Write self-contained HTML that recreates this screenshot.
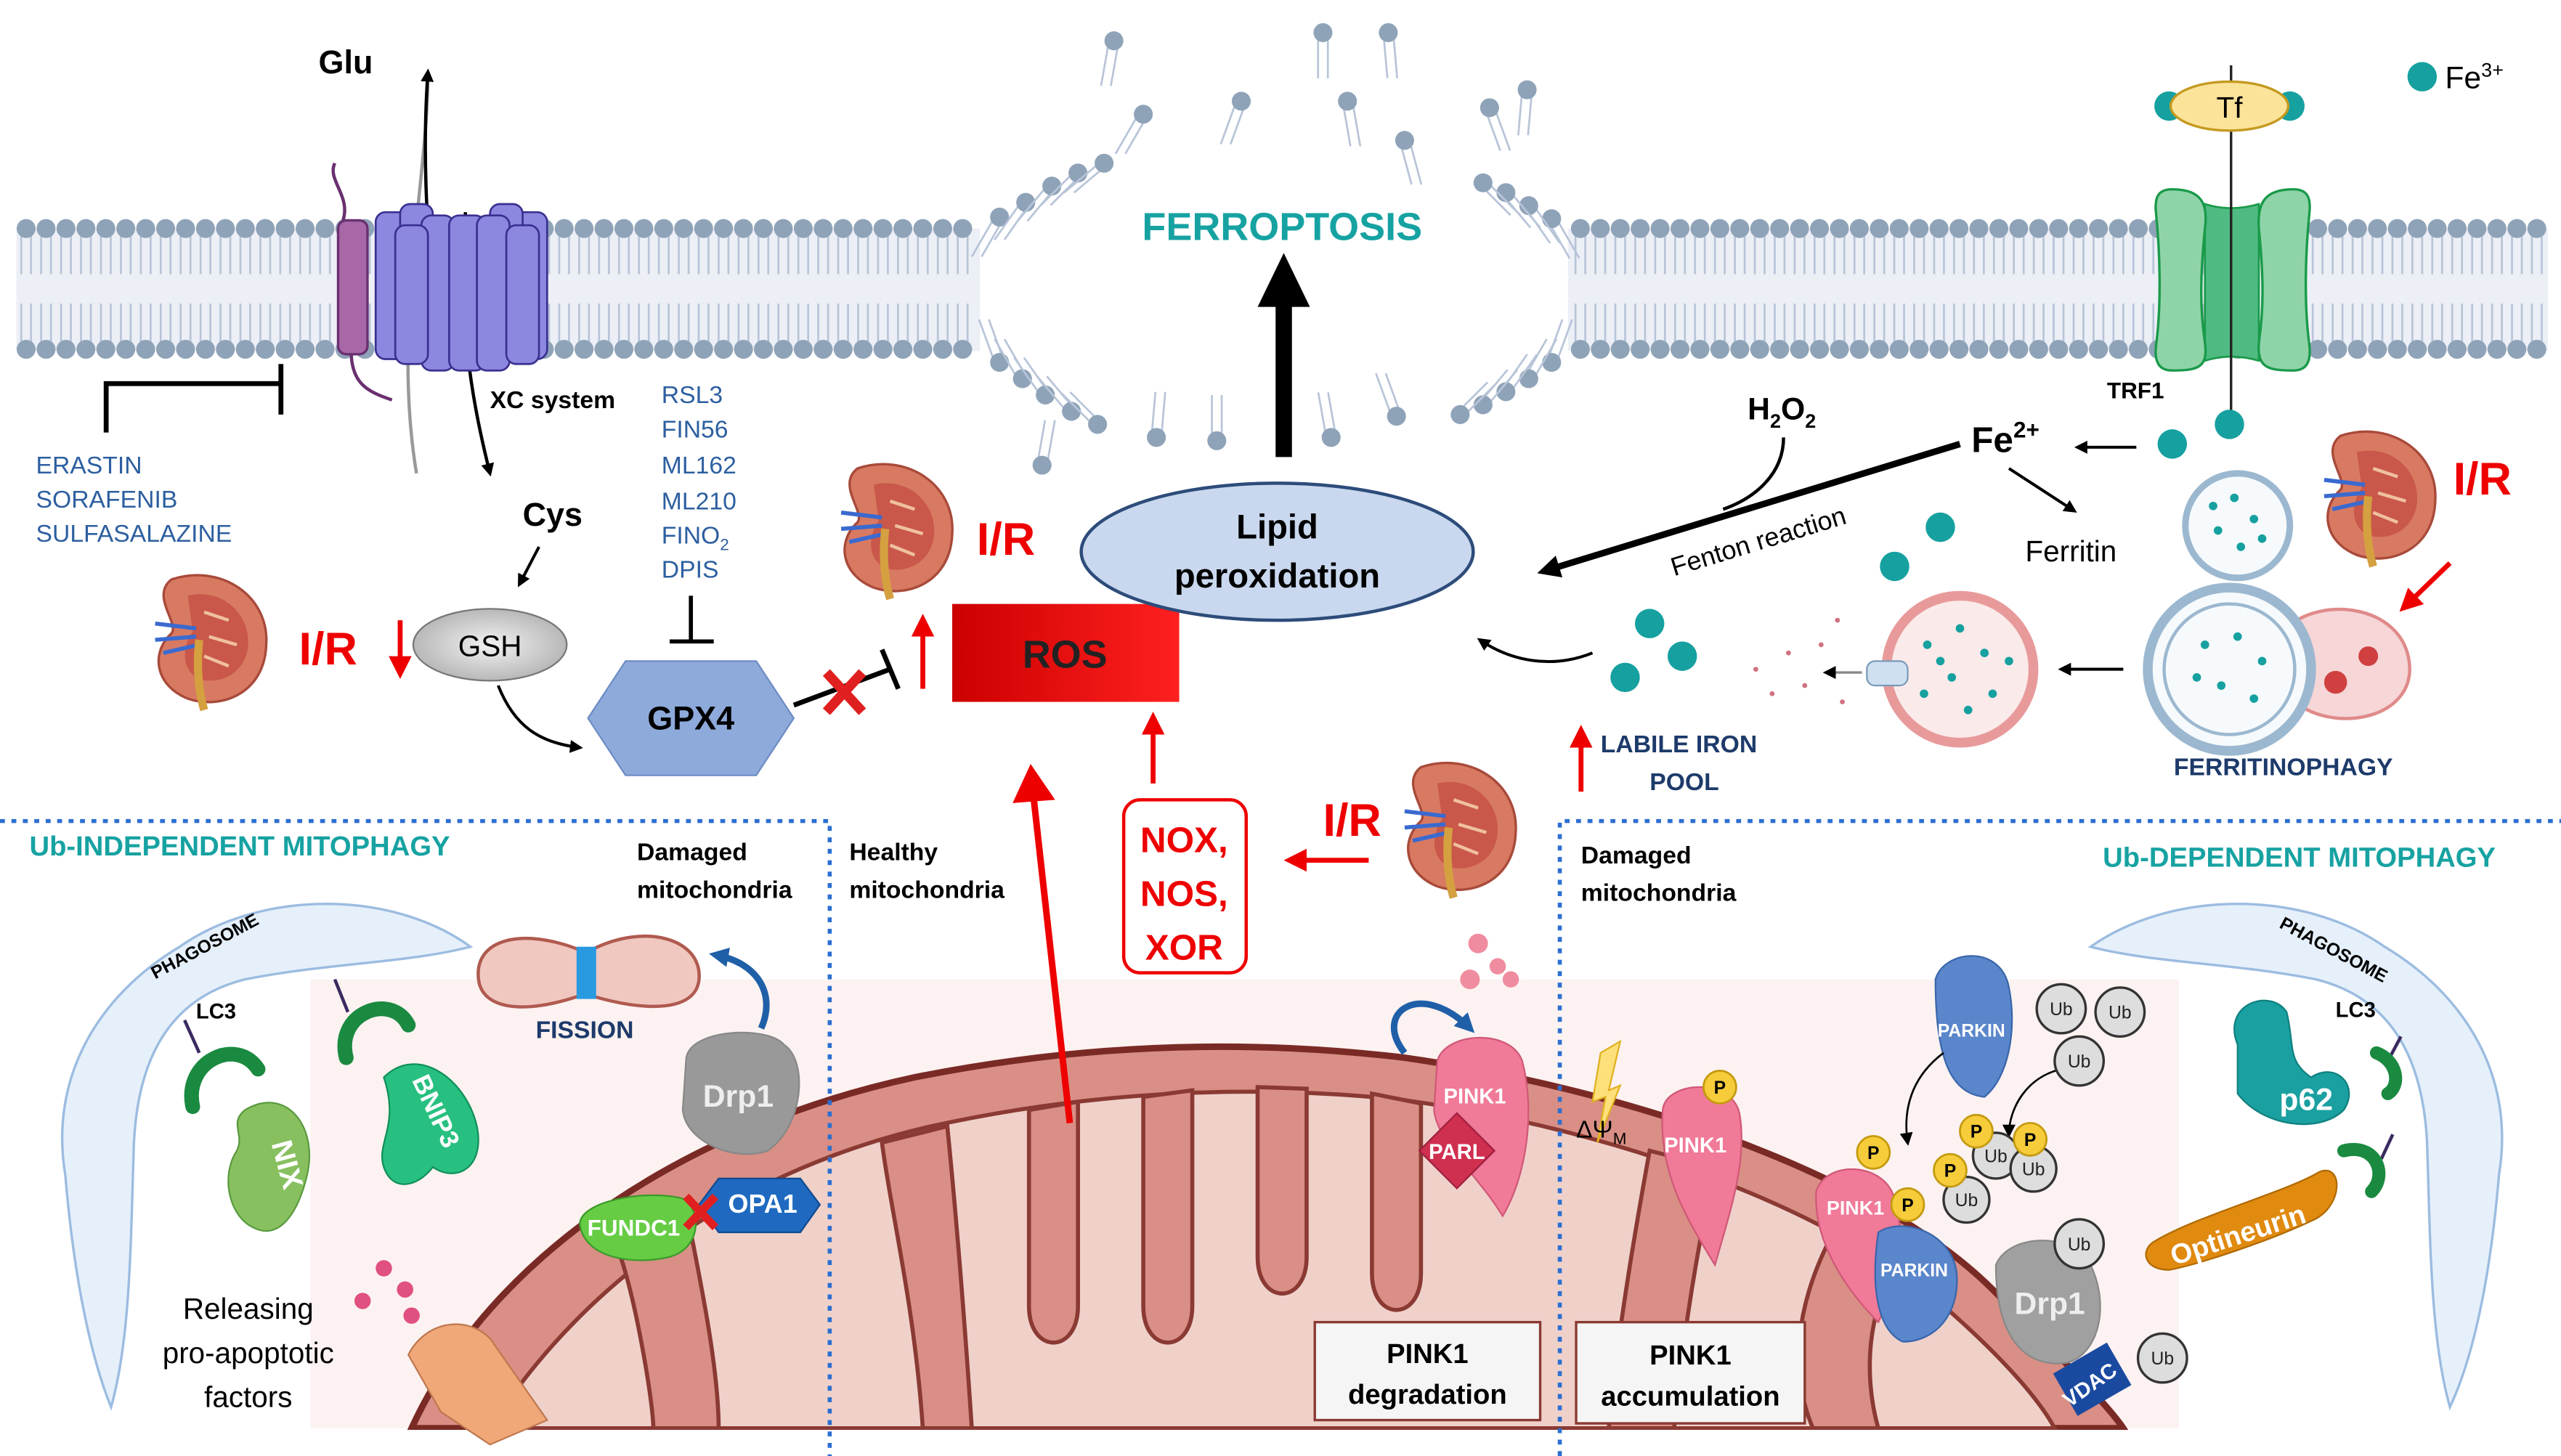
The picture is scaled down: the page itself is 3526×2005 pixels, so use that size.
<!DOCTYPE html>
<html><head><meta charset="utf-8">
<style>
html,body{margin:0;padding:0;background:#fff;}
svg{display:block;}
text{font-family:"Liberation Sans",sans-serif;}
</style></head>
<body>
<svg id="s" xmlns="http://www.w3.org/2000/svg" width="3526" height="2005" viewBox="0 0 1568 892" preserveAspectRatio="none">
<defs>
<marker id="ab" markerWidth="8" markerHeight="8" refX="6" refY="4" orient="auto" markerUnits="userSpaceOnUse"><path d="M0,0 L8,4 L0,8 z" fill="#000"/></marker>
<marker id="abk" markerWidth="14" markerHeight="14" refX="10" refY="7" orient="auto" markerUnits="userSpaceOnUse"><path d="M0,0 L14,7 L0,14 z" fill="#000"/></marker>
<marker id="ar" markerWidth="14" markerHeight="14" refX="10" refY="7" orient="auto" markerUnits="userSpaceOnUse"><path d="M0,0 L14,7 L0,14 z" fill="#e00"/></marker>
<marker id="abl" markerWidth="12" markerHeight="12" refX="8" refY="6" orient="auto" markerUnits="userSpaceOnUse"><path d="M0,0 L12,6 L0,12 z" fill="#1f5fa8"/></marker>
<linearGradient id="ros" x1="0" y1="0" x2="1" y2="0"><stop offset="0" stop-color="#c00"/><stop offset="1" stop-color="#ff2020"/></linearGradient>
<radialGradient id="gsh"><stop offset="0" stop-color="#f2f2f2"/><stop offset="1" stop-color="#b8b8b8"/></radialGradient>
<g id="kid">
<path d="M-25,-35 C5,-45 35,-25 33,5 C32,35 5,45 -15,38 C-35,30 -38,10 -25,-2 C-20,-8 -38,-25 -25,-35z" fill="#d87a62" stroke="#a84a3a" stroke-width="1.5"/>
<path d="M-15,-25 C5,-30 22,-15 22,3 C22,22 5,30 -8,26 C-20,20 -18,5 -12,-3z" fill="#c9584a"/>
<path d="M-10,-5 L-35,-8 M-10,0 L-35,2 M-8,5 L-30,10" stroke="#3a6ad0" stroke-width="2.5"/>
<path d="M-8,2 C-10,20 -8,35 -5,45" stroke="#d4a040" stroke-width="5" fill="none"/>
<path d="M-5,-15 L10,-10 M-2,0 L15,5 M-5,12 L10,18" stroke="#f0c0a0" stroke-width="2"/>
</g>
</defs>

<rect x="190" y="600" width="1144" height="275" fill="#fcf2f1"/>

<g id="mem"></g>

<path d="M252,875 C300,770 420,690 560,660 C660,640 760,636 860,648 C1000,668 1150,720 1220,790 C1260,830 1290,860 1300,875 Z" fill="#d98f85" stroke="#7a2a25" stroke-width="4"/>
<path d="M300,875 C360,780 460,715 570,690 C670,668 770,664 860,674 C990,692 1120,740 1190,800 C1230,835 1250,860 1258,875 Z" fill="#efd1ca" stroke="#8a3a33" stroke-width="2.5"/>
<g fill="#d98f85" stroke="#8a3a33" stroke-width="2.5">
<path d="M380,770 C390,800 400,860 400,875 L440,875 C440,840 430,790 420,740 Z"/>
<path d="M540,700 C545,740 560,800 565,875 L595,875 C590,800 585,740 580,690 Z"/>
<path d="M630,680 L630,800 C630,830 660,830 660,800 L660,675 Z"/>
<path d="M700,672 L700,800 C700,830 730,830 730,800 L730,668 Z"/>
<path d="M770,666 L770,770 C770,800 800,800 800,770 L800,667 Z"/>
<path d="M840,670 L840,780 C840,810 870,810 870,780 L870,676 Z"/>
<path d="M1010,705 C1000,760 990,820 985,875 L1025,875 C1030,820 1040,760 1050,715 Z"/>
<path d="M1120,760 C1100,800 1095,840 1110,875 L1150,875 C1140,840 1145,800 1160,780 Z"/>
</g>
<rect x="0" y="876" width="1568" height="20" fill="#fff"/>

<g stroke="#2c6fd0" stroke-width="2.5" stroke-dasharray="3,4" fill="none">
<path d="M0,503 H508 V892"/>
<path d="M955,892 V503 H1568"/>
</g>

<path d="M255,290 C240,200 262,110 262,45" stroke="#999" stroke-width="2" fill="none"/>
<path d="M270,215 C262,160 258,100 262,44" stroke="#000" stroke-width="2" fill="none" marker-end="url(#ab)"/>
<path d="M285,130 C280,200 290,250 300,290" stroke="#000" stroke-width="2" fill="none" marker-end="url(#ab)"/>
<path d="M205,100 C200,110 215,120 210,135" stroke="#6a3070" stroke-width="2" fill="none"/>
<path d="M215,215 C215,235 225,240 240,245" stroke="#6a3070" stroke-width="2" fill="none"/>
<rect x="207" y="135" width="18" height="82" rx="5" fill="#a868a8" stroke="#6a3070" stroke-width="1.5"/>
<g fill="#8c88e0" stroke="#3a3090" stroke-width="1.2">
<rect x="230" y="130" width="20" height="90" rx="6"/><rect x="315" y="130" width="20" height="90" rx="6"/>
<rect x="245" y="125" width="20" height="95" rx="6"/><rect x="300" y="125" width="20" height="95" rx="6"/>
<rect x="258" y="132" width="20" height="95" rx="6"/><rect x="275" y="132" width="22" height="95" rx="6"/><rect x="292" y="132" width="20" height="95" rx="6"/>
<rect x="242" y="138" width="20" height="85" rx="6"/><rect x="310" y="138" width="20" height="85" rx="6"/>
</g>
<text x="195" y="45" font-size="20" font-weight="bold">Glu</text>
<text x="300" y="250" font-size="15" font-weight="bold">XC system</text>
<path d="M65,265 V235 H172 M172,223 V254" stroke="#000" stroke-width="3" fill="none"/>
<g fill="#2d5fa0" font-size="15"><text x="22" y="290">ERASTIN</text><text x="22" y="311">SORAFENIB</text><text x="22" y="332">SULFASALAZINE</text></g>
<text x="320" y="322" font-size="20" font-weight="bold">Cys</text>
<path d="M330,335 L318,358" stroke="#000" stroke-width="1.8" marker-end="url(#ab)"/>
<ellipse cx="300" cy="395" rx="47" ry="22" fill="url(#gsh)" stroke="#777" stroke-width="1"/>
<text x="300" y="402" font-size="18" text-anchor="middle">GSH</text>
<path d="M305,420 C315,445 330,455 355,458" stroke="#000" stroke-width="1.8" fill="none" marker-end="url(#ab)"/>
<use href="#kid" x="130" y="390"/>
<text x="183" y="407" font-size="28" font-weight="bold" fill="#e00">I/R</text>
<path d="M245,380 V412" stroke="#e00" stroke-width="3" marker-end="url(#ar)"/>
<g fill="#2d5fa0" font-size="15"><text x="405" y="247">RSL3</text><text x="405" y="268">FIN56</text><text x="405" y="290">ML162</text><text x="405" y="312">ML210</text><text x="405" y="333">FINO<tspan font-size="10" dy="4">2</tspan></text><text x="405" y="354">DPIS</text></g>
<path d="M423,365 V392 M410,393 H437" stroke="#000" stroke-width="2.5"/>
<polygon points="360,440 383,405 463,405 486,440 463,475 383,475" fill="#8eaadb" stroke="#6d8cc4"/>
<text x="423" y="447" font-size="20" font-weight="bold" text-anchor="middle">GPX4</text>
<path d="M486,432 L545,410 M540,398 L550,422" stroke="#000" stroke-width="3"/>
<path d="M506,412 L528,436 M528,412 L506,436" stroke="#e02020" stroke-width="6"/>
<path d="M565,422 V380" stroke="#e00" stroke-width="3" marker-end="url(#ar)"/>
<rect x="583" y="370" width="139" height="60" fill="url(#ros)"/>
<text x="652" y="409" font-size="24" font-weight="bold" text-anchor="middle" fill="#222">ROS</text>
<use href="#kid" x="550" y="322"/>
<text x="598" y="340" font-size="28" font-weight="bold" fill="#e00">I/R</text>

<ellipse cx="782" cy="338" rx="120" ry="42" fill="#c9d8ee" stroke="#2d4c7a" stroke-width="2"/>
<text x="782" y="330" font-size="21" font-weight="bold" text-anchor="middle">Lipid</text>
<text x="782" y="360" font-size="21" font-weight="bold" text-anchor="middle">peroxidation</text>
<path d="M786,280 V185" stroke="#000" stroke-width="10"/>
<polygon points="770,188 802,188 786,155" fill="#000"/>
<text x="785" y="147" font-size="24" font-weight="bold" text-anchor="middle" fill="#17a2a2">FERROPTOSIS</text>

<path d="M655,688 L633,490" stroke="#e00" stroke-width="4"/>
<polygon points="620,492 646,490 631,468" fill="#e00"/>
<path d="M706,480 V440" stroke="#e00" stroke-width="3" marker-end="url(#ar)"/>
<rect x="688" y="490" width="75" height="106" rx="10" fill="#fff" stroke="#e00" stroke-width="2"/>
<g font-size="22" font-weight="bold" fill="#e00" text-anchor="middle"><text x="725" y="522">NOX,</text><text x="725" y="555">NOS,</text><text x="725" y="588">XOR</text></g>
<path d="M838,527 H790" stroke="#e00" stroke-width="3" marker-end="url(#ar)"/>
<text x="810" y="512" font-size="28" font-weight="bold" fill="#e00">I/R</text>
<use href="#kid" x="895" y="505"/>

<!-- TRF1 -->
<path d="M1350,125 Q1366,130 1383,125 L1383,221 Q1366,216 1350,221 Z" fill="#4fbb82" stroke="#1a9a4a" stroke-width="1.2"/>
<path d="M1330,116 C1348,116 1352,125 1350,140 C1347,170 1347,190 1350,210 C1352,225 1346,227 1330,227 C1322,227 1319,222 1320,212 C1323,190 1323,160 1320,130 C1319,120 1322,116 1330,116Z" fill="#8fd4a8" stroke="#1a9a4a" stroke-width="1.5"/>
<path d="M1404,116 C1386,116 1382,125 1383,140 C1386,170 1386,190 1383,210 C1382,225 1388,227 1404,227 C1412,227 1415,222 1414,212 C1411,190 1411,160 1414,130 C1415,120 1412,116 1404,116Z" fill="#8fd4a8" stroke="#1a9a4a" stroke-width="1.5"/>
<line x1="1366" y1="40" x2="1366" y2="268" stroke="#222" stroke-width="1.5"/>
<circle cx="1328" cy="65" r="9" fill="#16a0a0"/><circle cx="1402" cy="65" r="9" fill="#16a0a0"/>
<ellipse cx="1365" cy="65" rx="36" ry="15" fill="#fbe39a" stroke="#c49a20" stroke-width="1.5"/>
<text x="1365" y="72" font-size="18" text-anchor="middle">Tf</text>
<circle cx="1483" cy="47" r="9" fill="#16a0a0"/>
<text x="1497" y="54" font-size="19">Fe<tspan font-size="12" dy="-7">3+</tspan></text>
<text x="1290" y="244" font-size="14" font-weight="bold">TRF1</text>
<circle cx="1330" cy="272" r="9" fill="#16a0a0"/><circle cx="1365" cy="260" r="9" fill="#16a0a0"/>
<path d="M1308,274 H1272" stroke="#000" stroke-width="1.8" marker-end="url(#ab)"/>
<text x="1207" y="277" font-size="22" font-weight="bold">Fe<tspan font-size="14" dy="-9">2+</tspan></text>
<path d="M1230,287 L1270,313" stroke="#000" stroke-width="1.8" marker-end="url(#ab)"/>
<text x="1240" y="344" font-size="18">Ferritin</text>
<circle cx="1370" cy="322" r="32" fill="#f6fafc" stroke="#9cb8d0" stroke-width="4"/>
<text x="1070" y="257" font-size="19" font-weight="bold">H<tspan font-size="12" dy="5">2</tspan><tspan dy="-5">O</tspan><tspan font-size="12" dy="5">2</tspan></text>
<path d="M1200,272 L945,350" stroke="#000" stroke-width="4" marker-end="url(#abk)"/>
<path d="M1092,268 C1092,290 1075,305 1055,312" stroke="#000" stroke-width="2" fill="none"/>
<text x="1025" y="353" font-size="16" transform="rotate(-17 1025 353)">Fenton reaction</text>
<circle cx="1188" cy="323" r="9" fill="#16a0a0"/><circle cx="1160" cy="347" r="9" fill="#16a0a0"/>
<use href="#kid" x="1458" y="302"/>
<text x="1502" y="303" font-size="28" font-weight="bold" fill="#e00">I/R</text>
<path d="M1500,345 L1472,372" stroke="#e00" stroke-width="3" marker-end="url(#ar)"/>
<path d="M1400,385 C1420,365 1470,370 1475,405 C1480,440 1430,450 1405,430 Z" fill="#f6d6d6" stroke="#e08a8a" stroke-width="2"/>
<circle cx="1365" cy="410" r="50" fill="#f6fafc" stroke="#9cb8d0" stroke-width="6"/>
<circle cx="1365" cy="410" r="40" fill="none" stroke="#9cb8d0" stroke-width="2"/>
<circle cx="1430" cy="418" r="7" fill="#d04040"/><circle cx="1450" cy="402" r="6" fill="#d04040"/>
<text x="1398" y="475" font-size="15" font-weight="bold" text-anchor="middle" fill="#1d3a6a">FERRITINOPHAGY</text>
<path d="M1300,410 H1262" stroke="#000" stroke-width="1.8" marker-end="url(#ab)"/>
<circle cx="1200" cy="410" r="45" fill="#fbeaea" stroke="#e89a9a" stroke-width="6"/>
<rect x="1143" y="405" width="25" height="15" rx="5" fill="#cfe0f0" stroke="#7a9ab8"/>
<path d="M1140,412 H1118" stroke="#888" stroke-width="1.5" marker-end="url(#ab)"/>
<g id="fdots"></g>
<circle cx="1010" cy="382" r="9" fill="#16a0a0"/><circle cx="995" cy="415" r="9" fill="#16a0a0"/><circle cx="1030" cy="402" r="9" fill="#16a0a0"/>
<path d="M975,400 C950,410 925,405 906,392" stroke="#000" stroke-width="1.8" fill="none" marker-end="url(#ab)"/>
<path d="M968,485 V448" stroke="#e00" stroke-width="3" marker-end="url(#ar)"/>
<g font-size="15" font-weight="bold" fill="#1d3a6a"><text x="980" y="461">LABILE IRON</text><text x="1010" y="484">POOL</text></g>

<text x="18" y="524" font-size="17" font-weight="bold" fill="#17a2a2">Ub-INDEPENDENT MITOPHAGY</text>
<g font-size="15" font-weight="bold"><text x="390" y="527">Damaged</text><text x="390" y="550">mitochondria</text>
<text x="520" y="527">Healthy</text><text x="520" y="550">mitochondria</text>
<text x="968" y="529">Damaged</text><text x="968" y="552">mitochondria</text></g>
<text x="1528" y="531" font-size="17" font-weight="bold" fill="#17a2a2" text-anchor="end">Ub-DEPENDENT MITOPHAGY</text>

<path d="M288,580 C240,545 160,545 110,580 C60,610 30,660 40,720 C45,780 55,830 68,862 C80,820 80,760 82,700 C85,640 110,610 150,600 C200,590 250,590 288,580Z" fill="#e6f0fb" stroke="#9cbce0" stroke-width="1.5"/>
<text x="95" y="600" font-size="11" font-weight="bold" transform="rotate(-28 95 600)">PHAGOSOME</text>
<path d="M1280,580 C1330,545 1410,545 1460,580 C1510,610 1540,660 1530,720 C1525,780 1515,830 1500,862 C1488,820 1488,760 1486,700 C1483,640 1458,610 1418,600 C1368,590 1318,590 1280,580Z" fill="#e6f0fb" stroke="#9cbce0" stroke-width="1.5"/>
<text x="1395" y="568" font-size="11" font-weight="bold" transform="rotate(28 1395 568)">PHAGOSOME</text>

<line x1="113" y1="625" x2="122" y2="645" stroke="#3a2a60" stroke-width="2"/>
<text x="120" y="624" font-size="13" font-weight="bold">LC3</text>
<path d="M118,678 C112,650 145,635 158,655" stroke="#1a8a40" stroke-width="9" fill="none" stroke-linecap="round"/>
<line x1="205" y1="600" x2="213" y2="620" stroke="#3a2a60" stroke-width="2"/>
<path d="M212,648 C205,620 240,608 250,628" stroke="#1a8a40" stroke-width="9" fill="none" stroke-linecap="round"/>
<path d="M150,680 C175,665 195,690 188,720 C182,745 170,760 155,752 C140,745 135,720 145,705 C150,695 140,688 150,680Z" fill="#88c060" stroke="#5a9a40"/>
<text x="170" y="715" font-size="18" font-weight="bold" fill="#fff" transform="rotate(75 170 715)" text-anchor="middle">NIX</text>
<path d="M235,660 C255,640 285,660 292,690 C297,715 280,725 265,715 C255,728 240,730 235,715 C230,700 245,690 235,660Z" fill="#28c080" stroke="#10905a"/>
<text x="262" y="683" font-size="16" font-weight="bold" fill="#fff" transform="rotate(65 262 683)" text-anchor="middle">BNIP3</text>
<g font-size="18" text-anchor="middle"><text x="152" y="808">Releasing</text><text x="152" y="835">pro-apoptotic</text><text x="152" y="862">factors</text></g>
<g fill="#e05080"><circle cx="235" cy="777" r="5"/><circle cx="248" cy="790" r="5"/><circle cx="222" cy="797" r="5"/><circle cx="252" cy="806" r="5"/></g>
<path d="M250,830 C260,810 285,805 300,820 L335,870 L300,885 L270,865Z" fill="#f0a878" stroke="#c07850"/>
<path d="M293,600 C290,575 320,568 355,582 L362,582 C395,565 430,575 428,600 C426,620 395,620 362,610 L355,610 C320,622 295,618 293,600Z" fill="#f0c8c0" stroke="#b05a50" stroke-width="2"/>
<rect x="353" y="580" width="12" height="32" fill="#2a9ae0"/>
<text x="358" y="636" font-size="15" font-weight="bold" fill="#1d3a6a" text-anchor="middle">FISSION</text>
<path d="M466,630 C475,610 465,590 438,585" stroke="#1f5fa8" stroke-width="4" fill="none" marker-end="url(#abl)"/>
<path d="M420,650 C420,630 470,628 480,640 C495,650 492,690 470,705 C450,712 420,700 418,680Z" fill="#999" stroke="#888"/>
<text x="452" y="678" font-size="19" font-weight="bold" fill="#eee" text-anchor="middle">Drp1</text>
<path d="M355,750 C355,735 400,728 420,735 C430,745 428,765 410,770 C390,775 358,772 355,750Z" fill="#66cc44" stroke="#3a9a2a"/>
<text x="388" y="757" font-size="14" font-weight="bold" fill="#fff" text-anchor="middle">FUNDC1</text>
<polygon points="428,738 440,722 490,722 502,738 490,755 440,755" fill="#1f6ac0" stroke="#104a90"/>
<text x="467" y="743" font-size="16" font-weight="bold" fill="#fff" text-anchor="middle">OPA1</text>
<path d="M420,733 L438,752 M438,733 L420,752" stroke="#e02020" stroke-width="5"/>

<path d="M860,645 C840,620 870,600 900,630" stroke="#1f5fa8" stroke-width="4" fill="none" marker-end="url(#abl)"/>
<g fill="#f08ca0"><circle cx="905" cy="578" r="6"/><circle cx="917" cy="592" r="5"/><circle cx="900" cy="600" r="6"/><circle cx="925" cy="600" r="5"/></g>
<path d="M880,650 C885,632 925,630 932,650 C940,680 935,720 920,745 C905,720 880,700 878,680Z" fill="#f07a98" stroke="#d05878"/>
<text x="903" y="676" font-size="13" font-weight="bold" fill="#fff" text-anchor="middle">PINK1</text>
<polygon points="892,682 915,705 892,728 869,705" fill="#d03050" stroke="#a02040"/>
<text x="892" y="710" font-size="13" font-weight="bold" fill="#fff" text-anchor="middle">PARL</text>
<rect x="805" y="810" width="138" height="60" fill="#f5f5f5" stroke="#8a3a33" stroke-width="1.5"/>
<g font-size="17" font-weight="bold" text-anchor="middle"><text x="874" y="835">PINK1</text><text x="874" y="860">degradation</text></g>

<polygon points="980,645 992,638 985,668 992,665 978,700 983,672 975,675" fill="#fde07a" stroke="#e0b020"/>
<text x="965" y="697" font-size="15">ΔΨ<tspan font-size="10" dy="4">M</tspan></text>
<path d="M1018,680 C1020,662 1060,660 1065,682 C1070,710 1060,740 1050,775 C1035,750 1015,720 1018,680Z" fill="#f07a98" stroke="#d05878"/>
<text x="1038" y="706" font-size="13" font-weight="bold" fill="#fff" text-anchor="middle">PINK1</text>
<rect x="965" y="810" width="140" height="62" fill="#f5f5f5" stroke="#8a3a33" stroke-width="1.5"/>
<g font-size="17" font-weight="bold" text-anchor="middle"><text x="1035" y="836">PINK1</text><text x="1035" y="861">accumulation</text></g>
<path d="M1185,600 C1190,582 1225,578 1230,605 C1235,630 1230,660 1215,672 C1195,670 1185,650 1185,600Z" fill="#5a86cc" stroke="#3a66aa"/>
<text x="1207" y="635" font-size="11" font-weight="bold" fill="#fff" text-anchor="middle">PARKIN</text>
<path d="M1112,730 C1118,710 1155,712 1160,735 C1168,760 1160,790 1150,810 C1130,790 1110,760 1112,730Z" fill="#f07a98" stroke="#d05878"/>
<path d="M1150,755 C1165,745 1195,755 1198,780 C1200,805 1185,822 1165,822 C1150,815 1145,790 1150,755Z" fill="#5a86cc" stroke="#3a66aa"/>
<text x="1136" y="744" font-size="12" font-weight="bold" fill="#fff" text-anchor="middle">PINK1</text>
<text x="1172" y="782" font-size="11" font-weight="bold" fill="#fff" text-anchor="middle">PARKIN</text>
<path d="M1222,775 C1230,755 1270,755 1280,775 C1292,800 1285,830 1265,835 C1240,838 1222,820 1222,775Z" fill="#a0a0a0" stroke="#888"/>
<text x="1255" y="805" font-size="19" font-weight="bold" fill="#eee" text-anchor="middle">Drp1</text>
<rect x="1262" y="830" width="38" height="30" fill="#1a4aa0" transform="rotate(-30 1281 845)"/>
<text x="1282" y="852" font-size="13" font-weight="bold" fill="#fff" text-anchor="middle" transform="rotate(-35 1282 852)">VDAC</text>
<path d="M1190,645 C1170,660 1165,680 1168,700" stroke="#000" stroke-width="1.2" fill="none" marker-end="url(#ab)"/>
<path d="M1262,655 C1240,660 1230,680 1230,695" stroke="#000" stroke-width="1.2" fill="none" marker-end="url(#ab)"/>
<g fill="#ddd" stroke="#333" stroke-width="1.5">
<circle cx="1262" cy="618" r="15"/><circle cx="1298" cy="620" r="15"/><circle cx="1273" cy="650" r="15"/>
<circle cx="1222" cy="708" r="14"/><circle cx="1245" cy="716" r="14"/><circle cx="1204" cy="735" r="14"/>
<circle cx="1273" cy="762" r="15"/><circle cx="1324" cy="832" r="15"/>
</g>
<g font-size="11" text-anchor="middle" fill="#222">
<text x="1262" y="622">Ub</text><text x="1298" y="624">Ub</text><text x="1273" y="654">Ub</text><text x="1222" y="712">Ub</text><text x="1245" y="720">Ub</text><text x="1204" y="739">Ub</text><text x="1273" y="766">Ub</text><text x="1324" y="836">Ub</text></g>
<g fill="#f6cc3a" stroke="#c49a10" stroke-width="1.2">
<circle cx="1053" cy="666" r="10"/><circle cx="1147" cy="706" r="10"/><circle cx="1168" cy="738" r="10"/>
<circle cx="1210" cy="693" r="10"/><circle cx="1243" cy="698" r="10"/><circle cx="1194" cy="717" r="10"/></g>
<g font-size="11" font-weight="bold" text-anchor="middle"><text x="1053" y="670">P</text><text x="1147" y="710">P</text><text x="1168" y="742">P</text><text x="1210" y="697">P</text><text x="1243" y="702">P</text><text x="1194" y="721">P</text></g>
<path d="M1370,640 C1360,615 1390,605 1400,620 C1405,640 1400,650 1415,660 C1430,650 1445,665 1435,680 C1420,695 1385,690 1370,670Z" fill="#1aa0a0" stroke="#108080"/>
<text x="1412" y="680" font-size="19" font-weight="bold" fill="#fff" text-anchor="middle">p62</text>
<text x="1430" y="623" font-size="13" font-weight="bold">LC3</text>
<line x1="1470" y1="635" x2="1462" y2="650" stroke="#3a2a60" stroke-width="2"/>
<path d="M1455,645 C1468,650 1470,665 1462,670" stroke="#1a8a40" stroke-width="8" fill="none" stroke-linecap="round"/>
<line x1="1465" y1="695" x2="1458" y2="710" stroke="#3a2a60" stroke-width="2"/>
<path d="M1435,705 C1455,700 1462,720 1452,730" stroke="#1a8a40" stroke-width="8" fill="none" stroke-linecap="round"/>
<path d="M1320,760 C1345,745 1400,730 1420,718 C1435,712 1435,740 1415,748 C1390,760 1345,775 1328,778 C1312,778 1310,765 1320,760Z" fill="#e08a10" stroke="#b06a00"/>
<text x="1372" y="762" font-size="17" font-weight="bold" fill="#fff" text-anchor="middle" transform="rotate(-18 1372 762)">Optineurin</text>
</svg>
<script>
(function(){
var ns="http://www.w3.org/2000/svg",m=document.getElementById("mem");
function el(t,a){var e=document.createElementNS(ns,t);for(var k in a)e.setAttribute(k,a[k]);m.appendChild(e);return e;}
el("rect",{x:10,y:140,width:590,height:75,fill:"#eceff6"});
el("rect",{x:960,y:140,width:600,height:75,fill:"#eceff6"});
function lip(x,y,ang){var r=ang*Math.PI/180,dx=Math.sin(r)*28,dy=Math.cos(r)*28;
el("line",{x1:x-3,y1:y,x2:x-3+dx,y2:y+dy,stroke:"#b8c4d8","stroke-width":1.2});
el("line",{x1:x+3,y1:y,x2:x+3+dx,y2:y+dy,stroke:"#b8c4d8","stroke-width":1.2});
el("circle",{cx:x,cy:y,r:5.8,fill:"#8fa3b8"});}
for(var x=16;x<1562;x+=12.2){
 if(x<600||x>960){lip(x,140,0);lip(x,214,180);}
}
var L=[[612,133,-30],[628,124,-35],[644,114,-40],[660,106,-45],[676,100,-50],[612,222,200],[626,232,210],[640,242,215],[656,252,220],[672,260,225],
[950,134,30],[936,126,35],[922,118,40],[908,112,45],[950,222,160],[936,232,150],[922,240,145],[908,248,140],[894,254,135],
[682,25,-10],[810,20,0],[850,20,5],[825,62,10],[912,66,20],[935,55,-5],[860,86,15],[760,62,-20],[700,70,-30],
[638,285,170],[745,270,180],[815,268,190],[855,255,200],[708,268,175]];
L.forEach(function(p){lip(p[0],p[1],p[2]);});
var f=document.getElementById("fdots");
var D=[[1180,395],[1200,385],[1215,400],[1195,415],[1220,425],[1178,425],[1205,435],[1230,405],[1188,405],
[1350,395],[1370,390],[1385,405],[1360,420],[1380,428],[1345,415],[1368,305],[1380,318],[1358,325],[1372,335],[1385,330],[1355,310]];
D.forEach(function(p){var c=document.createElementNS(ns,"circle");c.setAttribute("cx",p[0]);c.setAttribute("cy",p[1]);c.setAttribute("r",2.6);c.setAttribute("fill","#16a0a0");f.appendChild(c);});
[[1095,400],[1105,420],[1085,425],[1115,395],[1075,410],[1125,380],[1128,430]].forEach(function(p){var c=document.createElementNS(ns,"circle");c.setAttribute("cx",p[0]);c.setAttribute("cy",p[1]);c.setAttribute("r",1.5);c.setAttribute("fill","#d07080");f.appendChild(c);});
})();
</script>
</body></html>
